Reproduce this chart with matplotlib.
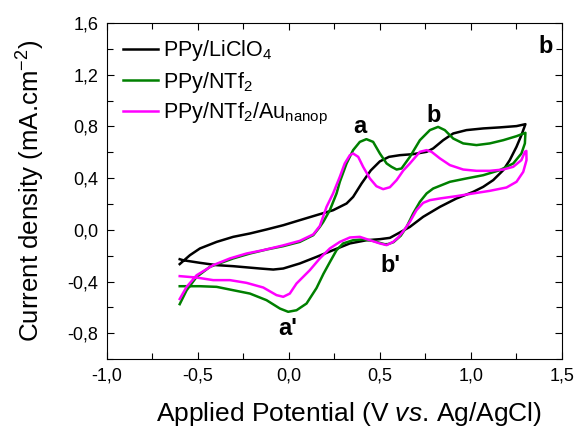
import matplotlib
matplotlib.use("Agg")
import matplotlib.pyplot as plt
from matplotlib.ticker import MultipleLocator, FuncFormatter

plt.rcParams["font.family"] = ["Liberation Sans", "DejaVu Sans"]
plt.rcParams["mathtext.fontset"] = "custom"
plt.rcParams["mathtext.rm"] = "Liberation Sans"
plt.rcParams["mathtext.it"] = "Liberation Sans:italic"
plt.rcParams["mathtext.bf"] = "Liberation Sans:bold"

# cyclic voltammograms (potential V, current density mA/cm2)
# each loop: anodic sweep -0.6 -> 1.3 V, then cathodic sweep back to -0.6 V
v_liclo4 = [-0.60, -0.544, -0.489, -0.397, -0.306, -0.214, -0.123, -0.031, 0.060, 0.152,
            0.243, 0.317, 0.353, 0.40, 0.45, 0.50, 0.55, 0.61, 0.683, 0.757, 0.793, 0.848,
            0.903, 0.976, 1.068, 1.159, 1.251, 1.30,
            1.278, 1.251, 1.214, 1.178, 1.123, 1.068, 1.013, 0.921, 0.830, 0.738, 0.665,
            0.610, 0.555, 0.50, 0.427, 0.335, 0.243, 0.152, 0.060, -0.031, -0.086, -0.159,
            -0.306, -0.397, -0.489, -0.581, -0.60]
j_liclo4 = [-0.265, -0.196, -0.144, -0.093, -0.054, -0.028, 0.003, 0.036, 0.075, 0.114,
            0.152, 0.204, 0.255, 0.36, 0.46, 0.53, 0.565, 0.578, 0.586, 0.604, 0.630, 0.694,
            0.746, 0.772, 0.785, 0.793, 0.803, 0.818,
            0.733, 0.643, 0.540, 0.462, 0.385, 0.333, 0.294, 0.243, 0.178, 0.101, 0.023,
            -0.020, -0.062, -0.072, -0.080, -0.105, -0.157, -0.209, -0.260, -0.299, -0.307, -0.299,
            -0.281, -0.273, -0.255, -0.235, -0.227]

v_ntf2 = [-0.60, -0.562, -0.507, -0.434, -0.306, -0.214, -0.123, -0.031, 0.060, 0.134,
          0.170, 0.189, 0.225, 0.262, 0.280, 0.317, 0.353, 0.390, 0.426, 0.463, 0.50, 0.537,
          0.564, 0.592, 0.619, 0.665, 0.720, 0.775, 0.820, 0.857, 0.903, 0.958, 1.031, 1.104,
          1.178, 1.251, 1.30,
          1.297, 1.278, 1.233, 1.159, 1.068, 0.976, 0.885, 0.793, 0.757, 0.720, 0.683, 0.647,
          0.615, 0.575, 0.545, 0.527, 0.50, 0.463, 0.408, 0.353, 0.298, 0.262, 0.225, 0.19,
          0.152, 0.097, 0.042, -0.004, -0.049, -0.123, -0.214, -0.306, -0.397, -0.489, -0.60]
j_ntf2 = [-0.575, -0.467, -0.364, -0.286, -0.221, -0.183, -0.152, -0.126, -0.093, -0.041,
          0.023, 0.062, 0.152, 0.282, 0.372, 0.514, 0.617, 0.681, 0.702, 0.681, 0.591, 0.514,
          0.488, 0.467, 0.475, 0.565, 0.694, 0.772, 0.797, 0.772, 0.707, 0.669, 0.656, 0.669,
          0.694, 0.725, 0.751,
          0.669, 0.591, 0.514, 0.462, 0.423, 0.398, 0.372, 0.320, 0.282, 0.217, 0.127, 0.023,
          -0.045, -0.095, -0.110, -0.111, -0.101, -0.085, -0.074, -0.080, -0.105, -0.157, -0.25, -0.34,
          -0.45, -0.57, -0.622, -0.634, -0.609, -0.544, -0.493, -0.467, -0.441, -0.436, -0.436]

v_au = [-0.60, -0.562, -0.507, -0.416, -0.324, -0.233, -0.141, -0.031, 0.060, 0.134,
        0.170, 0.207, 0.243, 0.280, 0.307, 0.335, 0.353, 0.381, 0.408, 0.445, 0.481, 0.518,
        0.555, 0.592, 0.629, 0.665, 0.720, 0.757, 0.784, 0.830, 0.885, 0.958, 1.031, 1.104,
        1.178, 1.233, 1.278, 1.297, 1.305,
        1.306, 1.288, 1.251, 1.196, 1.104, 1.013, 0.921, 0.830, 0.775, 0.738, 0.701, 0.665,
        0.629, 0.600, 0.573, 0.537, 0.50, 0.445, 0.390, 0.335, 0.280, 0.225, 0.170, 0.115,
        0.042, 0.005, -0.031, -0.068, -0.141, -0.233, -0.324, -0.416, -0.507, -0.60]
j_au = [-0.535, -0.441, -0.351, -0.273, -0.221, -0.183, -0.157, -0.120, -0.085, -0.035,
        0.03, 0.178, 0.282, 0.411, 0.514, 0.578, 0.591, 0.565, 0.488, 0.398, 0.338, 0.315,
        0.330, 0.385, 0.46, 0.514, 0.604, 0.617, 0.604, 0.553, 0.501, 0.467, 0.457, 0.457,
        0.467, 0.488, 0.540, 0.604, 0.611,
        0.540, 0.449, 0.372, 0.328, 0.302, 0.282, 0.261, 0.243, 0.230, 0.209, 0.152, 0.062,
        -0.01, -0.06, -0.093, -0.118, -0.105, -0.080, -0.054, -0.059, -0.093, -0.144, -0.221, -0.312,
        -0.415, -0.493, -0.518, -0.505, -0.446, -0.410, -0.389, -0.389, -0.369, -0.358]

series_labels = ["PPy/LiClO$_4$", "PPy/NTf$_2$", "PPy/NTf$_2$/Au$_{\\rm nanop}$"]
series_colors = ["#000000", "#008000", "#ff00ff"]

# peak labels, text baseline positions
peak_labels = ["a", "b", "a'", "b'"]
peak_pos = [(0.39, 0.748), (0.797, 0.834), (-0.005, -0.816), (0.558, -0.327)]

fig = plt.figure(figsize=(5.78, 4.28), dpi=100)
ax = fig.add_axes([0.185, 0.161, 0.787, 0.785])

for v, j, lab, col in zip([v_liclo4, v_ntf2, v_au], [j_liclo4, j_ntf2, j_au],
                          series_labels, series_colors):
    ax.plot(v, j, color=col, lw=1.8, label=lab, solid_joinstyle="round")

for txt, (x, y) in zip(peak_labels, peak_pos):
    ax.text(x, y, txt, fontsize=17, fontweight="bold", ha="center", va="baseline")
ax.text(0.965, 1.368, "b", transform=ax.get_yaxis_transform(), fontsize=17,
        fontweight="bold", ha="center", va="baseline")

ax.set_xlim(-1.0, 1.5)
ax.set_ylim(-1.0, 1.6)
ax.xaxis.set_major_locator(MultipleLocator(0.5))
ax.xaxis.set_minor_locator(MultipleLocator(0.25))
ax.yaxis.set_major_locator(MultipleLocator(0.4))
ax.yaxis.set_minor_locator(MultipleLocator(0.2))
comma = FuncFormatter(lambda v, p: f"{v:.1f}".replace(".", ",").replace("-0,0", "0,0"))
ax.xaxis.set_major_formatter(comma)
ax.yaxis.set_major_formatter(comma)
ax.tick_params(which="both", direction="in", top=True, right=True, labelsize=13,
               width=0.8, pad=6)
ax.tick_params(which="major", length=5)
ax.tick_params(which="minor", length=4)
for s in ax.spines.values():
    s.set_linewidth(0.8)

ax.set_xlabel("Applied Potential (V $\\mathit{vs}$. Ag/AgCl)", fontsize=19, va="baseline")
ax.xaxis.set_label_coords(0.532, -0.1845)
ax.set_ylabel("Current density (mA.cm$^{-2}$)", fontsize=18.6)
ax.yaxis.set_label_coords(-0.132, 0.5)

ax.legend(loc="upper left", frameon=False, fontsize=15.5, handlelength=1.65,
          handletextpad=0.2, labelspacing=0.3, borderaxespad=0.0, borderpad=0.0,
          bbox_to_anchor=(0.035, 0.955))

fig.savefig("out.png", dpi=100)
